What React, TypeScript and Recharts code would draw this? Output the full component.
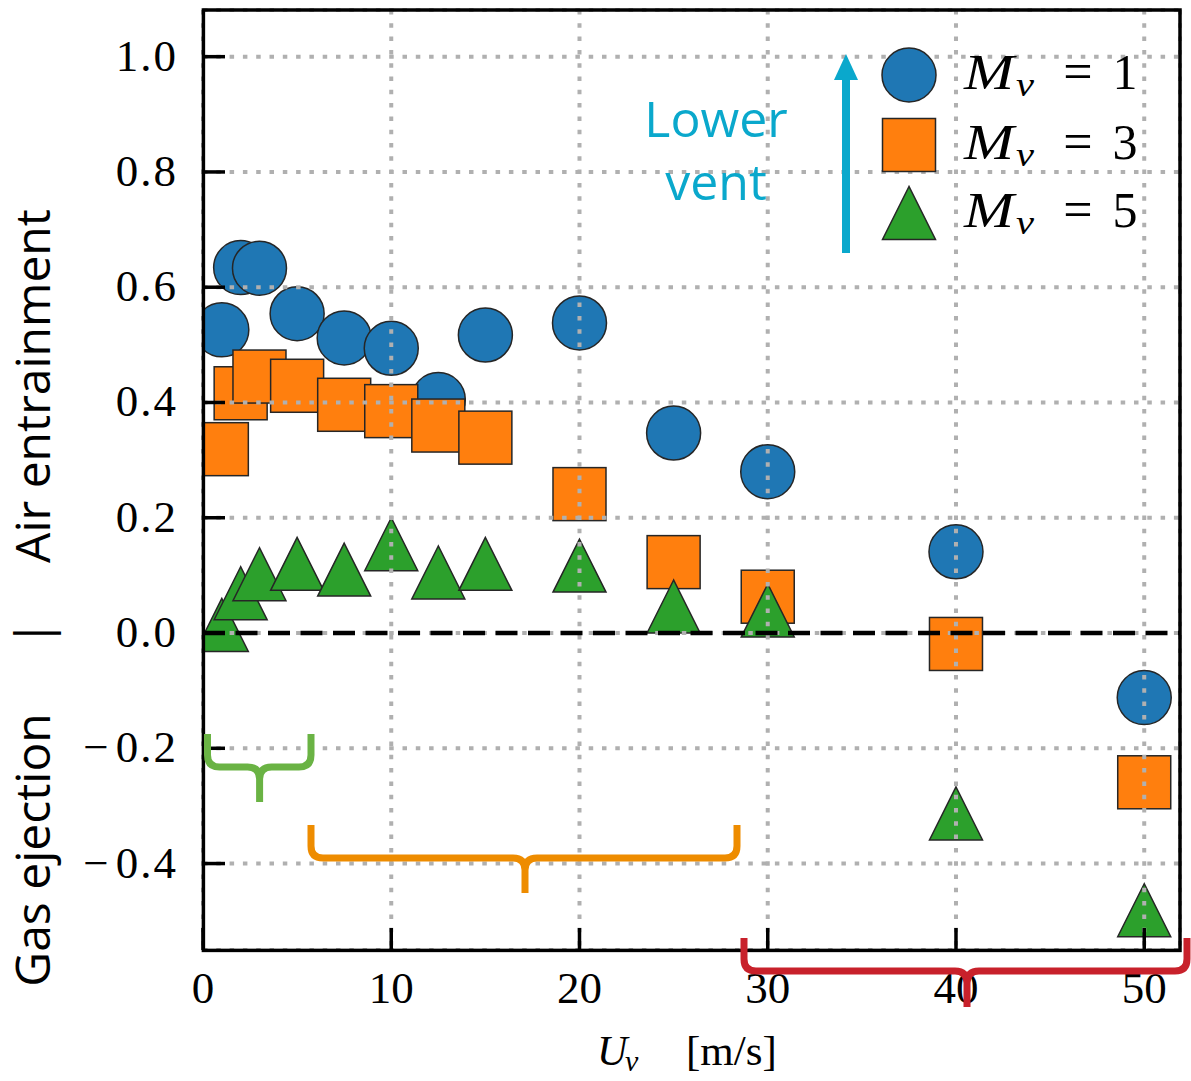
import { CartesianGrid, ReferenceLine, Scatter, ScatterChart, XAxis, YAxis } from "recharts";

// vent speed U_v [m/s] and the measured air entrainment for each vent size
const speeds = [1, 2, 3, 5, 7.5, 10, 12.5, 15, 20, 25, 30, 40, 50];
const mv1 = [0.526, 0.634, 0.633, 0.554, 0.512, 0.494, 0.405, 0.517, 0.538, 0.347, 0.28, 0.141, -0.112];
const mv3 = [0.319, 0.416, 0.445, 0.429, 0.396, 0.385, 0.36, 0.339, 0.241, 0.123, 0.063, -0.019, -0.259];
const mv5 = [0.014, 0.069, 0.102, 0.12, 0.11, 0.154, 0.105, 0.12, 0.117, 0.046, 0.039, -0.313, -0.481];

const xTicks = [0, 10, 20, 30, 40, 50];
const yTicks = [-0.4, -0.2, 0, 0.2, 0.4, 0.6, 0.8, 1.0];
const legendLabels = ["1", "3", "5"];

const BLUE = "#1f77b4";
const ORANGE = "#ff7f0e";
const GREEN = "#2ca02c";
const EDGE = "#262626";
const CYAN = "#0aa8cc";
const SERIF = "'Liberation Serif', 'Times New Roman', serif";
const SANS = "'Open Sans', 'Noto Sans', sans-serif";

const toPoints = (ys: number[]) => speeds.map((x, i) => ({ x, y: ys[i] }));

const CircleMark = (p: any) => (
  <circle cx={p.cx} cy={p.cy} r={27} fill={BLUE} stroke={EDGE} strokeWidth={1.5} />
);
const SquareMark = (p: any) => (
  <rect x={p.cx - 26.5} y={p.cy - 26.5} width={53} height={53} fill={ORANGE} stroke={EDGE} strokeWidth={1.5} />
);
const TriangleMark = (p: any) => (
  <polygon
    points={`${p.cx},${p.cy - 26.5} ${p.cx - 26.5},${p.cy + 26.5} ${p.cx + 26.5},${p.cy + 26.5}`}
    fill={GREEN}
    stroke={EDGE}
    strokeWidth={1.5}
  />
);

// ticks are drawn inward, like the matplotlib original
const renderXTick = (p: any) => (
  <g key={`xt-${p.payload.value}`}>
    <line x1={p.x} x2={p.x} y1={p.y} y2={p.y - 22} stroke="#000" strokeWidth={3.5} />
    <text x={p.x} y={p.y + 53} textAnchor="middle" fontFamily={SERIF} fontSize={45} fill="#000">
      {p.payload.value}
    </text>
  </g>
);

const renderYTick = (p: any) => {
  const v: number = p.payload.value;
  return (
    <g key={`yt-${v}`}>
      <line x1={p.x} x2={p.x + 22} y1={p.y} y2={p.y} stroke="#000" strokeWidth={3.5} />
      <text x={p.x - 25} y={p.y + 14} textAnchor="end" fontFamily={SERIF} fontSize={45} letterSpacing={2} fill="#000">
        {v < 0 && <tspan>{"\u2212"}</tspan>}
        <tspan dx={v < 0 ? 5 : 0}>{Math.abs(v).toFixed(1)}</tspan>
      </text>
    </g>
  );
};

function brace(left: number, right: number, top: number, bar: number, tipX: number, tipY: number) {
  const r = 12;
  return [
    `M${left},${top} L${left},${bar - r} Q${left},${bar} ${left + r},${bar}`,
    `L${tipX - r},${bar} Q${tipX},${bar} ${tipX},${bar + r} L${tipX},${tipY}`,
    `M${tipX},${bar + r} Q${tipX},${bar} ${tipX + r},${bar} L${right - r},${bar} Q${right},${bar} ${right},${bar - r} L${right},${top}`,
  ].join(" ");
}

function Overlay() {
  const rows = [75, 145, 213];
  return (
    <svg width={1191} height={1081} style={{ position: "absolute", left: 0, top: 0, pointerEvents: "none" }}>
      <rect x={203.4} y={10} width={976.6} height={940.4} fill="none" stroke="#000" strokeWidth={3.5} />

      {/* legend */}
      <circle cx={909} cy={rows[0]} r={27} fill={BLUE} stroke={EDGE} strokeWidth={1.5} />
      <rect x={882.5} y={rows[1] - 26.5} width={53} height={53} fill={ORANGE} stroke={EDGE} strokeWidth={1.5} />
      <polygon
        points={`909,${rows[2] - 26.5} 882.5,${rows[2] + 26.5} 935.5,${rows[2] + 26.5}`}
        fill={GREEN}
        stroke={EDGE}
        strokeWidth={1.5}
      />
      {legendLabels.map((lab, i) => (
        <g key={lab} fontFamily={SERIF} fill="#000">
          <text x={964} y={rows[i] + 14} fontSize={50} fontStyle="italic" textLength={50} lengthAdjust="spacingAndGlyphs">
            M
          </text>
          <text x={1016} y={rows[i] + 21} fontSize={34} fontStyle="italic" textLength={18} lengthAdjust="spacingAndGlyphs">
            v
          </text>
          <text x={1078} y={rows[i] + 14} fontSize={52} textAnchor="middle">=</text>
          <text x={1125} y={rows[i] + 14} fontSize={50} textAnchor="middle">{lab}</text>
        </g>
      ))}

      {/* lower vent arrow */}
      <line x1={846} x2={846} y1={253} y2={76} stroke={CYAN} strokeWidth={8} />
      <polygon points="846,54 834,80 858,80" fill={CYAN} />
      <text x={716} y={137} textAnchor="middle" fontFamily={SANS} fontSize={50} fill={CYAN}>Lower</text>
      <text x={716} y={200} textAnchor="middle" fontFamily={SANS} fontSize={50} fill={CYAN}>vent</text>

      {/* regime braces */}
      <path d={brace(207.5, 311, 734, 767, 259.6, 802)} fill="none" stroke="#6ab344" strokeWidth={7} />
      <path d={brace(311, 737, 825, 858, 525, 893)} fill="none" stroke="#ee8c00" strokeWidth={7} />
      <path d={brace(744, 1187, 938, 971, 967, 1007)} fill="none" stroke="#c8212b" strokeWidth={7} />

      {/* axis labels */}
      <g fontFamily={SANS} fontSize={48} fill="#000" textAnchor="middle">
        <text transform="translate(50,386) rotate(-90)">Air entrainment</text>
        <text transform="translate(50,633) rotate(-90)">|</text>
        <text transform="translate(50,850) rotate(-90)">Gas ejection</text>
      </g>
      <g fontFamily={SERIF} fill="#000">
        <text x={597} y={1065} fontSize={42} fontStyle="italic">U</text>
        <text x={625} y={1071} fontSize={30} fontStyle="italic">v</text>
        <text x={686} y={1065} fontSize={43}>[m/s]</text>
      </g>
    </svg>
  );
}

export default function App() {
  return (
    <div style={{ position: "absolute", left: 0, top: 0, width: 1191, height: 1081, background: "#fff" }}>
      <ScatterChart width={1191} height={1081} margin={{ top: 10, left: 83, right: 11, bottom: 71 }}>
        <XAxis
          type="number"
          dataKey="x"
          domain={[0, 51.9]}
          ticks={xTicks}
          allowDataOverflow
          height={60}
          axisLine={false}
          tickLine={false}
          tickSize={0}
          tickMargin={0}
          tick={renderXTick}
          interval={0}
        />
        <YAxis
          type="number"
          dataKey="y"
          domain={[-0.55, 1.081]}
          ticks={yTicks}
          allowDataOverflow
          width={120}
          axisLine={false}
          tickLine={false}
          tickSize={0}
          tickMargin={0}
          tick={renderYTick}
          interval={0}
        />
        <Scatter data={toPoints(mv1)} shape={CircleMark} isAnimationActive={false} />
        <Scatter data={toPoints(mv3)} shape={SquareMark} isAnimationActive={false} />
        <Scatter data={toPoints(mv5)} shape={TriangleMark} isAnimationActive={false} />
        <CartesianGrid stroke="#b0b0b0" strokeWidth={4} strokeDasharray="4.5 8.8" zIndex={700} />
        <ReferenceLine y={0} stroke="#000" strokeWidth={4.5} strokeDasharray="22 10.5" zIndex={800} />
      </ScatterChart>
      <Overlay />
    </div>
  );
}
